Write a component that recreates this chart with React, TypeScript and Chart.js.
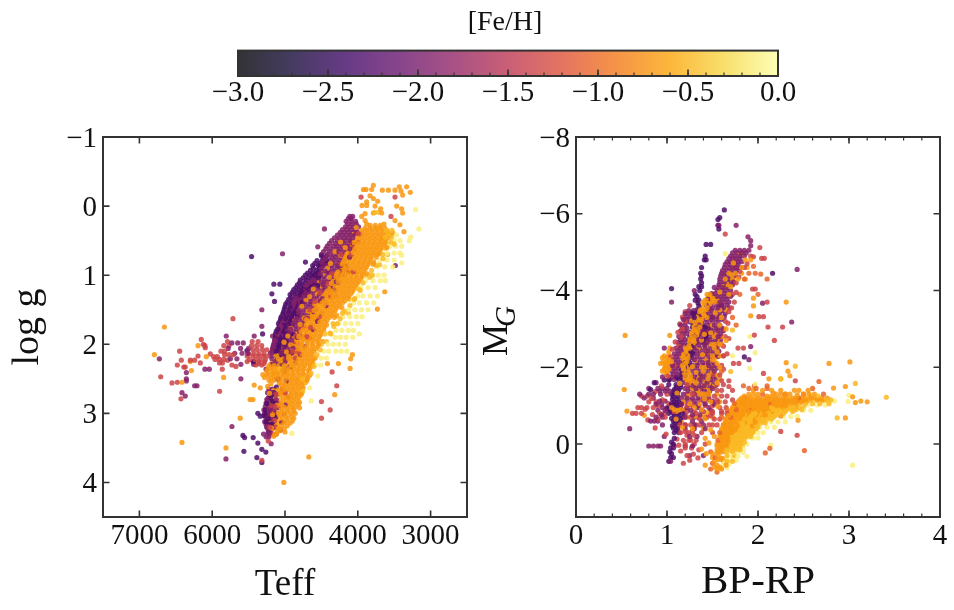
import React, { useEffect, useRef } from "react";
import { Chart, registerables } from "chart.js";

Chart.register(...registerables);

const FONT = '"Liberation Serif", serif';
const INK = "#333333";

const infernoStops = ["#000004", "#160b39", "#420a68", "#6a176e", "#932667", "#bc3754", "#dd513a", "#f37819", "#fca50a", "#f6d746", "#fcffa4"];
const fehMin = -3;
const fehMax = 0;
const colorbarMajor = [-3, -2.5, -2, -1.5, -1, -0.5, 0];
const teffTicks = [7000, 6000, 5000, 4000, 3000];

const fehDeep = -2.3;
const fehMagenta = -1.9;
const fehRed = -1.35;
const fehHot = -1.05;
const fehOrange = -0.7;
const fehGold = -0.48;
const fehPale = -0.12;

// Left panel rows: [log g, Teff, Teff, ...]
const leftPale = [[0.05,3206],[0.33,3160],[0.42,3540,3470],[0.45,3274],[0.5,3500,3420,3293],[0.58,3560,3480,3397],[0.68,3600,3500,3420],[0.71,3397],[0.78,3700,3600,3500],[0.82,3397],[0.88,3740,3630,3520],[1,3820,3720,3640],[1.08,3890,3790,3690,3620],[1.18,3960,3860,3760],[1.3,4000,3930,3830,3730],[1.4,4060,3980,3880,3780],[1.5,4130,4040,3950,3860],[1.6,4200,4110,4020,3940],[1.7,4260,4170,4090,4000],[1.8,4300,4220,4130,4060],[1.85,3980],[1.9,4310,4240,4160,4070],[2,4410,4340,4260,4170],[2.1,4470,4400,4300,4230,4150],[2.2,4500,4430],[2.3,4580,4510],[2.46,4550],[2.63,4660],[2.82,4641],[3.29,4906]];
const leftMagenta = [[0.15,4110,4070],[0.22,4160,4090,4030],[0.3,4170,4110,4050,3990],[0.33,4458],[0.38,4240,4180,4120,4060,4000],[0.46,4320,4250,4190,4130,4070],[0.54,4390,4310,4250,4190,4120,4060],[0.59,4550],[0.62,4440,4370,4300,4240,4170,4110],[0.69,5034],[0.7,4500,4410,4340,4280,4210,4150],[0.78,4470,4380,4320,4250,4190],[0.86,4520,4430,4360,4290,4230,4170,3484],[0.94,4530,4450,4390,4320,4260,4200],[1.02,4620,4540,4470,4400,4330,4270],[1.1,4650,4570,4500,4430,4360,4300],[1.18,4740,4660,4590,4520,4450,4380],[1.26,4790,4710,4640,4570,4500,4430],[1.34,4850,4770,4700,4630,4560,4490],[1.42,4880,4800,4730,4660,4590],[1.5,4930,4850,4780,4710,4640,4570,5318],[1.58,4980,4900,4830,4760,4690,4620],[1.66,5010,4930,4860,4790,4720],[1.74,5060,4980,4910,4840,4770,5318],[1.82,5090,5010,4940,4870,4800],[1.88,5171,5423,5807],[1.9,5120,5040,4970,4900,4830],[1.98,5150,5070,5000,4930,4860,5573,5650,5730],[2.06,5170,5100,5030,4960,4890,5500,5610,5780],[2.13,5200,5130,5050,4980,4910,5690,5590,5510],[2.21,6726,5180,5100,5030,4960,5750,5660],[2.29,5180,5110,5040,5606,5432],[2.36,6100,6040,5260],[2.41,6355],[2.5,6355,5606],[2.53,6355],[2.6,6209,6241],[2.7,5240,5180,6415],[2.75,6370,5200],[2.85,5260,5190,5120],[2.95,5290,5220,5150],[3.05,5270,5200,5130],[3.12,5280,5210],[3.19,5729,5240,5160],[3.3,5295,5210],[3.44,5190],[3.66,5811]];
const leftMagentaFill = [[0.18,4130,4090],[0.26,4140,4080,4020],[0.34,4210,4150,4090,4030],[0.42,4280,4220,4160,4100,4040],[0.5,4360,4280,4220,4160,4100],[0.58,4420,4340,4280,4210,4150,4090],[0.66,4470,4390,4320,4260,4190,4130],[0.74,4440,4360,4300,4230,4170],[0.82,4490,4410,4340,4270,4210],[0.9,4500,4420,4350,4280,4210],[0.98,4580,4510,4430,4360,4300,4240],[1.06,4610,4530,4460,4390,4320],[1.14,4700,4620,4550,4480,4410,4340],[1.22,4760,4680,4610,4540,4470,4400],[1.3,4820,4740,4670,4600,4530,4460],[1.38,4870,4790,4720,4650,4580,4510],[1.46,4900,4820,4750,4680,4610],[1.54,4960,4880,4810,4740,4670,4600],[1.62,4990,4910,4840,4770,4700],[1.7,5040,4960,4890,4820,4750],[1.78,5070,4990,4920,4850,4780],[1.86,5100,5020,4950,4880,4810],[1.94,5140,5060,4980,4910,4840],[2.02,5160,5080,5010,4940,4870],[2.1,5180,5110,5040,4970,4900],[2.17,5190,5120,5050,4980],[2.25,5140,5070,5000],[2.65,5220,5170],[2.8,5250,5190,5120],[2.9,5270,5200,5140],[3,5280,5210,5150],[3.08,5250,5190],[3.16,5260,5210],[3.24,5230,5190],[3.34,5260,5220]];
const leftMixMagenta = [[0.41,3957],[0.52,3998],[0.63,4046],[0.74,4114],[0.88,4163],[0.99,4212],[1.1,4265],[1.21,4319],[1.32,4384],[1.44,4437],[1.55,4496],[1.67,4553],[1.79,4608],[1.91,4664],[2.03,4731],[2.15,4792],[2.27,4857],[2.33,4935],[2.41,5012],[2.53,4984],[2.64,5037],[2.76,4963],[2.88,4998],[3.01,5013],[3.13,5044],[3.24,5062],[1.05,4377],[1.38,4518],[1.72,4644],[2.08,4823]];
const leftDeep = [[0.72,4500,4430],[0.73,5459],[0.79,4560,4490,4430],[0.81,4719],[0.86,4620,4540,4470],[0.93,4650,4570,4500],[1,4720,4650,4590,4520],[1.07,4790,4710,4640,4570],[1.13,5153,5071],[1.14,4830,4760,4690,4620],[1.21,4880,4810,4740,4670],[1.27,5180],[1.28,4930,4860,4790,4720],[1.35,4950,4880,4820],[1.38,5144],[1.42,4990,4920,4850,4780],[1.49,5010,4940,4870],[1.56,5030,4960,4890,4830],[1.63,5060,4990,4920],[1.7,5090,5010,4940],[1.78,5100,5030,4960],[1.85,5130,5050,4990,5308],[1.93,5140,5070,5000],[2,5150,5080],[2.07,5170,5090,5020],[2.09,5523],[2.14,5120,5040,4960],[2.25,5432],[2.7,5210,5150],[2.78,5230,5170],[2.86,5250,5190,5130],[2.95,5270,5200],[3,5373],[3.03,5290,5220,5160],[3.04,5340],[3.12,5260,5190],[3.2,5250,5170],[3.28,5230],[3.32,5578],[3.35,5555,5437],[3.43,5373],[3.52,5318],[3.55,5565],[3.56,5263],[3.64,5386],[3.71,5318]];
const leftDeepFill = [[0.75,4470],[0.83,4590,4520,4450],[0.9,4610,4530],[0.97,4690,4620,4550],[1.04,4750,4680,4610,4540],[1.11,4800,4730,4660,4590],[1.18,4850,4780,4710,4640],[1.25,4900,4830,4760,4690],[1.32,4920,4850,4780],[1.39,4970,4900,4830,4760],[1.46,5000,4930,4860],[1.53,5020,4950,4880,4810],[1.6,5050,4980,4910],[1.67,5070,5000,4930,4860],[1.74,5080,5000,4930],[1.81,5120,5040,4970],[1.89,5130,5060,4990,4920],[1.96,5110,5040,4970],[2.03,5160,5090,5010],[2.1,5130,5060,4990],[2.18,5090,5020],[2.74,5200,5140],[2.82,5240,5180],[2.9,5220,5160],[2.99,5250,5180],[3.08,5230,5170],[3.16,5240,5200],[3.24,5210]];
const leftMixDeep = [[0.95,4412],[1.15,4553],[1.3,4697],[1.45,4771],[1.6,4831],[1.72,4896],[1.85,4917],[2,4968],[2.12,4931],[2.25,5052],[2.35,4989],[2.5,5096],[2.62,5118],[2.72,5098],[2.83,5163],[2.92,5091],[3.05,5122],[3.15,5165]];
const leftRed = [[1.63,5715],[2.02,6100],[1.93,6150],[2,6122],[2.05,6095],[2.1,6447],[2.14,6026,5500,5430,5360,5290],[2.18,5980,5930],[2.1,5880,5830],[2.02,5840,5770,5460,5390,5320],[1.96,5790,5450,5370],[2.27,6163,5900,5860],[2.23,6424,6300,6241,5789],[2.17,6195,5520,5440,5370,5300,5240],[2.25,5520,5440,5360,5280],[2.3,6479,5729,5400,5320],[2.33,6390,6370],[2.36,5862],[2.32,5674],[2.47,6707],[2.56,6552],[2.55,6479],[2.68,5898],[2.79,6429],[2.4,4353],[2.6,4289],[2.95,4380],[3.07,4499],[2.83,4499],[3.68,5318],[-0.13,3489,3955],[0.15,3544],[0.6,4200,4130,4060],[0.95,4130,4060],[1.3,4370,4300],[1.6,4530,4600],[1.9,4800,4730],[2.1,4970,4900],[2.5,5100],[2.7,5060,5000],[2.9,5210,5140,5080],[3.1,5200,5140],[3.3,5180,5120],[3.4,5230]];
const leftRedFill = [[0.4,4050,3990],[0.52,4110,4040],[0.7,4230,4160,4090],[0.85,4280,4210],[0.98,4360,4290],[1.12,4470,4400,4330],[1.25,4520,4450,4380],[1.38,4590,4520,4450],[1.5,4660,4590],[1.63,4720,4650,4580],[1.76,4790,4720,4650],[1.89,4850,4780,4700],[2,4880,4810],[2.12,4950,4880,4810],[2.2,5000,4930,4860],[2.08,5440,5380,5310,5250],[2.22,5490,5410,5340,5270],[2.28,5360,5290],[2.15,5830,5770,5710],[2.22,5960,5900,5840],[2.72,5210,5120],[2.85,5150,5090],[3,5180,5110],[3.2,5210,5130]];
const leftOrange = [[0.28,3830,3760,3690],[0.35,3950,3880,3810,3740,3670,3600],[0.42,3980,3910,3840,3770,3700,3630,3560],[0.49,4040,3970,3900,3830,3760,3690,3620],[0.56,4070,4000,3930,3860,3790,3720,3650],[0.63,4110,4040,3970,3900,3830,3760,3690],[0.7,4150,4080,4010,3940,3870,3800,3730],[0.77,4180,4110,4040,3970,3900,3830],[0.84,4210,4140,4070,4000,3930,3860,3790],[0.91,4250,4180,4110,4040,3970,3900],[0.98,4290,4220,4150,4080,4010,3940,3870],[1.05,4310,4240,4170,4100,4030,3960],[1.12,4360,4290,4220,4150,4080,4010],[1.19,4400,4330,4260,4190,4120,4050],[1.24,3630],[1.26,4440,4370,4300,4230,4160,4090],[1.33,4500,4420,4350,4280,4210,4140],[1.4,4560,4490,4420,4350,4280,4210],[1.47,4570,4500,4430,4360,4290,4220],[1.49,3731],[1.54,4620,4550,4480,4410,4340],[1.61,4680,4600,4530,4460,4390,4320],[1.68,4730,4660,4590,4520,4450],[1.75,4740,4670,4600,4530,4460,6657],[1.82,4780,4710,4640,4570,4500],[1.89,4810,4740,4670,4600,4530],[1.96,4840,4770,4700,4630,4560,4480],[2.02,6195],[2.03,4860,4780,4700,4620,4550],[2.1,4900,4820,4750,4680,4610],[2.15,6794,4074],[2.17,4950,4860,4790,4720,4650],[2.18,6081],[2.21,4097],[2.24,5130,5060,4990,4920,4840,4770,4700,4630],[2.25,6300],[2.28,4266,4417],[2.31,5220,5150,5080,5010,4940,4870,4800,4730,4650],[2.35,4106],[2.38,5250,5180,5110,5040,4970,4900,4830,4760,4680,6285],[2.45,5230,5160,5090,5020,4950,4880,4800,4730,4660],[2.48,5843],[2.52,5220,5150,5070,4980,4910,4840,4770,4700],[2.55,6415],[2.59,5050,4980,4910,4840,4770,5423],[2.63,5340],[2.66,5090,5010,4940,4870,4790],[2.73,5070,5000,4920,4850,4780,4317],[2.8,5060,4980,4910,4840,5480,5440],[2.87,5050,4970,4900,4820],[2.92,4800],[2.94,5050,4970,4890],[3,5090,5010,4930,4860],[3.07,5120,5040,4960,4880,5615],[3.14,5090,5010,4930],[3.22,5160,5090,5010],[3.27,5000],[3.3,5130,5120],[3.42,6415],[3.5,5811],[3.63,4673],[4,5016],[-0.3,3786],[-0.28,3430,3329],[-0.24,3923,3887,3809],[-0.23,3663,3580,3489],[-0.2,3279],[-0.22,3407],[-0.16,3384],[-0.15,3832],[-0.11,3786],[-0.07,3727],[-0.06,3878],[-0.01,3942,3878],[0,3763,3466],[0.04,3398,3686],[0.1,3384,3672,3786],[0.11,3900],[0.15,3946],[0.21,3900,3489],[0.26,3878,3640],[0.27,3421],[0.37,3366]];
const leftOrangeFill = [[0.32,3900,3830,3760,3700,3630],[0.39,3940,3870,3800,3730,3660,3590,3520],[0.46,4010,3940,3870,3800,3730,3660,3590],[0.53,4050,3980,3910,3840,3770,3700,3630],[0.6,4090,4020,3950,3880,3810,3740,3670,3600],[0.67,4130,4060,3990,3920,3850,3780,3710],[0.74,4170,4100,4030,3960,3890,3820,3750],[0.81,4200,4130,4060,3990,3920,3850,3780],[0.88,4230,4160,4090,4020,3950,3880],[0.95,4270,4200,4130,4060,3990,3920],[1.02,4300,4230,4160,4090,4020,3950],[1.09,4340,4270,4200,4130,4060,3990],[1.16,4380,4310,4240,4170,4100,4030],[1.23,4420,4350,4280,4210,4140,4070],[1.3,4470,4400,4330,4260,4190,4120],[1.37,4530,4460,4390,4320,4250,4180],[1.44,4540,4470,4400,4330,4260],[1.51,4600,4520,4450,4380,4310],[1.58,4650,4570,4500,4430,4360,4290],[1.65,4700,4630,4560,4490,4420],[1.72,4710,4640,4570,4500,4430],[1.79,4750,4680,4610,4540,4470],[1.86,4790,4720,4650,4580,4510],[1.93,4820,4750,4680,4610,4540],[2,4850,4770,4690,4620,4540],[2.07,4880,4800,4730,4650,4580],[2.14,4930,4840,4770,4700,4630],[2.21,5090,5020,4950,4880,4810,4740,4670,4600],[2.28,5190,5120,5050,4980,4910,4830,4760,4690,4620],[2.35,5230,5160,5090,5020,4950,4880,4810,4740,4660],[2.42,5240,5170,5100,5030,4960,4890,4820,4750,4670],[2.49,5190,5120,5050,4980,4910,4840,4770,4690],[2.56,5080,5010,4940,4870,4800,4730],[2.63,5030,4960,4890,4820,4750],[2.7,5060,4990,4910,4840,4770],[2.77,5020,4950,4880,4810],[2.84,5020,4940,4870,4800],[2.91,5010,4930,4860],[2.97,5040,4960,4880],[3.04,5070,4990,4910],[3.11,5060,4980,4900],[3.18,5120,5050,4970],[3.26,5100]];
const leftMixOrange = [[0.52,4237],[0.66,4312],[0.83,4376],[0.9,4418],[0.97,4473],[1.03,4392],[1.08,4527],[1.17,4486],[1.2,4613],[1.27,4558],[1.31,4661],[1.36,4712],[1.41,4607],[1.45,4769],[1.52,4683],[1.55,4821],[1.62,4738],[1.66,4874],[1.71,4793],[1.77,4917],[1.83,4831],[1.88,4962],[1.91,4878],[1.97,5014],[2.01,4923],[2.06,5061],[2.11,4981],[2.16,5117],[2.22,5033],[2.44,5304],[2.48,5281],[2.57,5193],[2.61,5238],[2.67,5156],[2.71,5213],[2.79,5132],[2.83,5187],[2.88,5109],[2.96,5143],[3.02,5171],[3.09,5213],[3.13,5138],[3.21,5186],[3.25,5067],[3.33,5154],[0.31,4023],[0.41,4087],[0.6,4172],[0.73,4249],[1.12,4421],[1.6,4621],[1.4,4547],[1.8,4712]];
const leftGold = [[0.09,3770,3720],[0.35,3610,3530],[0.45,3620,3540],[0.55,3580,3500],[0.7,3660,3590],[0.85,3700],[1,3900,3800],[1.2,3990],[1.35,4120,4050],[1.55,4210,4130],[1.7,4340,4280],[1.85,4450,4370],[2,4500],[2.15,4560],[2.3,4620],[2.5,4760]];
const leftMixGold = [[0.39,3581],[0.47,3663],[0.52,3547],[0.61,3623],[0.69,3702],[0.76,3654],[0.86,3743],[0.93,3812],[1.03,3837],[1.11,3928],[1.22,3967],[1.34,4043],[1.44,4108],[1.52,4186],[1.63,4243],[1.74,4329],[1.84,4382],[1.96,4431],[2.08,4517],[2.19,4577],[2.32,4604],[2.42,4641],[2.55,4712],[2.68,4757],[2.3,4908],[2.42,5143],[2.36,5071]];

// Right panel rows: [M_G, BP-RP, BP-RP, ...]
const rightPale = [[-4.96,1.64],[-3.65,1.37],[-2.8,1.91],[-2.38,1.97],[-2.3,1.72],[-1.97,1.91],[-1.56,1.97],[-1.27,3.0],[-1.11,2.99],[0.55,3.04],[0.03,2.14],[-1.12,2.62,2.7,2.78,2.84],[-1.02,2.55,2.65,2.74],[-0.88,2.4,2.5,2.58],[-0.72,2.28,2.36,2.43],[-0.58,2.14,2.22,2.3],[-0.44,2.02,2.1,2.18],[-0.3,1.95,2.0,2.06],[-0.16,1.88,1.94,2.0],[0,1.82,1.88],[0.12,1.78,1.84],[0.22,1.72,1.78,1.84],[0.32,1.66,1.72,1.78,1.88],[0.42,1.64,1.7,1.76],[0.52,1.62,1.68],[0.62,1.6,1.66]];
const rightMagenta = [[-5.7,1.76,1.57],[-5.4,1.89],[-5.3,1.92],[-5.17,1.92],[-5.05,1.75,1.8,1.85,1.9],[-4.9,1.7,1.75,1.8,1.85],[-4.75,1.66,1.7,1.74,1.78,1.82],[-4.6,1.63,1.68,1.72,1.76,1.8],[-4.55,2.43],[-4.45,1.6,1.65,1.7,1.75],[-4.3,1.58,1.63,1.68,1.72],[-4.15,1.57,1.62,1.67,1.72],[-4,1.55,1.6,1.65,1.7,1.3],[-3.85,1.5,1.55,1.6,1.65,1.7],[-3.7,1.47,1.52,1.58,1.63,1.68,1.05],[-3.67,2.05],[-3.55,1.45,1.5,1.56,1.62,1.68],[-3.4,1.2,1.25,1.3,1.42,1.47,1.52,1.58,1.64],[-3.25,1.18,1.23,1.36,1.42,1.48,1.54,1.6],[-3.18,2.37],[-3.1,1.15,1.2,1.35,1.4,1.46,1.52,1.58],[-2.95,1.15,1.2,1.34,1.38,1.44,1.5,1.56,1.62],[-2.8,1.13,1.18,1.33,1.38,1.44,1.5,1.56],[-2.65,1.12,1.17,1.33,1.38,1.44,1.5,1.56],[-2.54,1.92],[-2.5,1.1,1.15,1.3,1.36,1.42,1.48,1.54,0.97],[-2.35,1.08,1.13,1.3,1.36,1.42,1.48,1.54],[-2.2,1.07,1.12,1.3,1.36,1.42,1.48,1.9],[-2.05,1.06,1.11,1.28,1.34,1.4,1.46,1.52],[-1.9,1.05,1.1,1.28,1.34,1.4,1.46,1.52],[-1.75,1.05,1.1,1.27,1.33,1.39,1.45,1.51,0.95],[-1.6,1.2,1.26,1.32,1.38,1.44,1.5,0.88],[-1.45,0.9,0.95,1,1.2,1.26,1.32,1.38,1.44,1.5,0.8],[-1.3,0.7,0.85,0.93,1.18,1.3,1.36,1.44,0.8],[-1.12,0.92,0.98,1.2,1.3,1.4,1.5],[-0.95,0.95,1.0,1.22,1.34,1.46],[-0.7,0.88,0.95,1.2,1.3,1.42],[-0.6,0.82,0.86,0.9,1.28,1.38],[-0.4,0.59,1.2,1.3,1.42],[-0.2,0.97,1.25,1.33],[0.05,0.8,0.85,0.9,0.93,1.08,1.2,1.28],[0.3,1.25,1.4],[0.45,1.04]];
const rightMagentaFill = [[-4.98,1.72,1.77,1.82,1.87],[-4.83,1.68,1.72,1.76,1.8],[-4.68,1.64,1.69,1.74,1.78],[-4.52,1.61,1.66,1.71,1.76],[-4.38,1.59,1.64,1.69,1.74],[-4.22,1.58,1.63,1.68,1.73],[-4.08,1.52,1.57,1.62,1.67],[-3.92,1.49,1.53,1.58,1.63,1.68],[-3.78,1.45,1.5,1.56,1.61,1.66],[-3.62,1.43,1.48,1.54,1.6,1.66],[-3.48,1.24,1.29,1.44,1.49,1.55,1.61],[-3.32,1.22,1.27,1.39,1.45,1.51,1.57,1.63],[-3.18,1.2,1.25,1.38,1.44,1.5,1.56],[-3.02,1.17,1.22,1.37,1.42,1.48,1.54,1.6],[-2.88,1.17,1.22,1.36,1.41,1.47,1.53,1.59],[-2.72,1.15,1.2,1.35,1.41,1.47,1.53,1.59],[-2.58,1.14,1.19,1.35,1.41,1.47,1.53],[-2.42,1.12,1.17,1.33,1.39,1.45,1.51,1.57],[-2.28,1.1,1.15,1.33,1.39,1.45,1.51,1.56],[-2.12,1.09,1.14,1.33,1.39,1.45,1.51],[-1.98,1.08,1.13,1.31,1.37,1.43,1.49,1.55],[-1.82,1.07,1.12,1.31,1.37,1.43,1.49],[-1.68,1.03,1.08,1.3,1.36,1.42,1.48,1.54],[-1.52,1.23,1.29,1.35,1.41,1.47,1.53],[-1.38,1.23,1.29,1.35,1.41,1.47,1.03,0.98,0.92],[-1.2,0.75,0.85,1.16,1.22,1.28,1.34,1.4,1.46],[-1.04,0.88,0.94,1.16,1.24,1.32,1.42,1.52],[-0.88,0.9,0.98,1.18,1.26,1.38,1.48],[-0.76,0.94,1.2,1.28,1.36],[-0.5,0.95,1.2,1.3,1.4]];
const rightDeep = [[-6.1,1.63],[-5.9,1.58],[-5.85,1.56],[-5.7,1.56],[-5.6,1.57],[-5.2,1.43,1.48],[-4.9,1.42],[-4.8,1.41,1.43],[-4.6,1.38],[-4.45,1.37,2.16],[-4.3,1.37],[-4.1,1.35,1.38],[-4.05,1.05],[-3.9,1.31],[-3.75,1.31,1.35],[-3.6,1.35,1.58,1.6],[-3.42,1.28,1.33],[-3.3,1.3,1.45,1.5],[-3.17,1.28,1.34],[-3.05,1.28,1.33,1.4,1.42],[-2.92,1.26,1.31,1.4],[-2.8,1.25,1.3,1.42],[-2.67,1.23,1.28,1.4],[-2.55,1.22,1.27],[-2.42,1.2,1.26],[-2.3,1.2,1.25],[-2.27,1.85],[-2.17,1.18,1.23],[-2.05,1.17,1.22],[-1.92,1.16,1.21],[-1.8,1.15,1.2],[-1.67,0.97,1.02,1.13,1.18],[-1.6,0.86],[-1.55,1.02,1.1,1.15],[-1.42,1.08,1.13,0.82],[-1.3,1.05,1.1],[-1.17,1.06,1.11],[-1.05,1.05,1.1,1.15],[-0.92,1,1.05,1.1,1.15],[-0.8,1.02,1.07,1.12,1.17],[-0.67,1.05,1.1,1.15],[-0.55,1.09,1.14],[-0.42,1.07,1.12],[-0.3,1.08,1.13],[-0.05,1.05],[0.1,1.07,1.04],[0.25,1.05],[0.35,1.04,1.07],[0.45,1.02]];
const rightDeepFill = [[0.2,1.03],[0,1.07],[-0.15,1.08],[-0.36,1.1],[-0.48,1.11,1.06],[-0.6,1.12,1.07],[-0.73,1.08,1.13],[-0.86,1.04,1.09,1.14],[-1,1.03,1.08,1.13],[-1.1,1.08,1.13],[-1.24,1.07,1.12],[-1.36,1.07,1.12],[-1.48,1.1,1.15],[-1.74,1.16,1.11],[-1.86,1.17,1.22],[-2,1.19,1.24],[-2.12,1.2,1.25],[-2.25,1.22,1.27],[-2.37,1.23,1.28],[-2.5,1.24,1.29],[-2.62,1.26,1.31,1.42],[-2.74,1.27,1.32,1.44],[-2.86,1.29,1.34,1.43],[-3,1.31,1.36,1.45],[-3.12,1.32,1.37],[-3.24,1.33],[-3.36,1.31,1.36],[-3.5,1.33],[-3.68,1.34],[-3.84,1.33],[-4,1.36],[-4.2,1.38],[-4.38,1.38]];
const rightRed = [[-5.47,1.64],[-5.12,2.02],[-4.88,1.95],[-4.84,2.07,2.04],[-4.04,1.97,1.94],[-3.7,2.1],[-3.32,2.01,2.06],[-3.05,2.27,2.11],[-2.84,1.96],[-2.7,2.18],[-2.5,1.78,1.84],[-2.1,1.73,1.79],[-1.84,2.06],[-1.65,1.6,1.68,2.41],[-1.4,1.72,1.6,1.55],[-1.25,0.72,0.78,1.52,1.6,1.66],[-1.1,0.8,0.88,1.56,1.64],[-0.95,0.68,0.72,0.78,0.85,1.58,1.65],[-0.8,0.62,0.66,0.72,0.92,0.97,1.32,1.5,1.6,1.66],[-0.65,0.9,1.36,1.52,1.58],[-0.5,1.2,1.26,1.36,1.46,1.55],[-0.33,1.2,1.28,2.25],[-0.23,2.43,1.22,1.3],[-0.1,1.24,1.32],[0,1.2,1.3,1.42],[0.1,1.27],[0.15,1.35],[0.3,1.22],[0.42,1.25],[0.5,1.18]];
const rightRedFill = [[-4.7,1.88],[-4.5,1.8],[-4.2,1.76],[-3.9,1.72],[-3.7,1.74],[-3.45,1.68,1.2],[-3.2,1.64,1.2],[-3,1.62,1.17],[-2.8,1.58,1.64,1.16],[-2.55,1.56,1.62,1.13],[-2.3,1.56,1.62],[-2.05,1.54,1.6,1.08],[-1.8,1.52,1.58],[-1.55,1.55,1.62,1.22],[-1.3,1,1.22,1.28,1.34,1.4],[-1.15,0.95,1.25,1.35,1.45,1.55],[-1,0.9,1.15,1.22,1.28,1.35,1.42,1.5],[-0.85,1.08,1.22,1.3,1.4,1.5,1.6],[-0.7,0.98,1.18,1.26,1.34,1.44],[-0.5,1.14,1.32,1.5],[-0.3,1.15,1.24,1.38,1.5],[-0.1,1.18,1.26],[0.1,1.2]];
const rightMixRed = [[-3.61,1.25],[-3.31,1.17],[-3.13,1.14],[-2.91,1.12],[-2.66,1.09],[-2.47,1.06],[-2.27,1.04],[-2.01,1.03],[-1.77,1.01],[-1.52,0.94],[-1.37,0.87],[-1.19,0.83],[-1.06,1.02],[-0.91,0.76],[-0.77,0.84],[-0.63,0.79],[-0.42,0.87],[-0.26,0.99],[-0.13,1.11],[0.03,1.13],[0.18,1.15],[0.26,1.29],[0.36,1.34],[-4.9,1.92],[-4.6,1.85],[-4.35,1.79],[-3.95,1.76],[-3.55,1.71],[-3.15,1.67],[-2.75,1.68],[-2.35,1.66],[-1.95,1.62],[-1.5,1.68],[-1.15,1.72],[-0.75,1.48]];
const rightHot = [[-4.3,1.85,2.1],[-4.43,2.03],[-4.45,1.97,1.9],[-4.63,1.95],[-3.9,1.8,2.0],[-3.3,1.72],[-3.1,1.76],[-2.6,1.6],[-2.3,1.62],[-1.9,1.6],[-1.63,2.67],[-1.52,1.84,1.96,2.1],[-1.45,1.9,1.98,2.1,2.6],[-1.3,2.05,2.3,2.5,2.72],[-1.2,1.85,2.45],[-1.05,1.74,1.84,2.14],[-0.9,1.66,1.76,1.9],[-0.7,1.6,1.7],[-0.5,1.62],[-0.3,1.58],[-0.1,1.56],[0.17,2.51],[0.23,2.08],[0.11,2.13],[0.2,1.48],[0.35,1.53],[0.5,1.5],[0.65,1.48],[0.73,1.55]];
const rightOrange = [[-4.95,1.81],[-4.8,1.86,1.92],[-4.6,1.74,1.82,1.88],[-4.45,1.68,1.75,1.82],[-4.3,1.64,1.72,1.78,1.86],[-4.1,1.62,1.7],[-3.9,1.48,1.5,1.68],[-3.8,1.45,1.5,1.54,1.95],[-3.7,1.4,1.46,1.52,2.31],[-3.6,1.95],[-3.5,1.37,1.42,1.48,1.58,1.65],[-3.34,1.92],[-3.3,1.33,1.38,1.44,1.56],[-3.1,1.3,1.35,1.5,1.58],[-2.9,1.27,1.32,1.48,1.55],[-2.83,1.03,0.54],[-2.7,1.24,1.29,1.45,1.55,1.65],[-2.5,1.2,1.25,1.03,1.42,1.52],[-2.3,1.16,1.21,0.97,1.02,1.5,1.58],[-2.1,1.16,1.2,0.93,0.98,1.03,1.45,1.55],[-1.9,1.18,1.22,0.95,1,1.4,1.5],[-1.7,1.2,1.24,1.35,1.45,1.58,2.25,2.12],[-1.5,1.3,1.38,1.42,1.5,2.96],[-1.42,0.53],[-1.3,1.25,1.4,1.46,1.55,1.9,1.95,2,2.2,2.25,2.3,2.35,2.5,2.56,2.62],[-1.46,2.83],[-1.25,1.85,2.1,2.15],[-1.15,1.8,1.85,1.9,1.95,2,2.05,2.1,2.15,2.2,2.25,2.3,2.35,2.4,2.45,2.5,2.55,2.6,2.65,2.72],[-1.05,1.76,1.82,1.87,1.92,1.97,2.02,2.07,2.12,2.17,2.22,2.27,2.32,2.37,2.42,1.25,1.36],[-0.95,1.72,1.78,1.83,1.88,1.93,1.98,2.03,2.08,2.13,2.18,2.23,2.28,2.33,1.05,1.3],[-0.85,1.7,1.75,1.8,1.85,1.9,1.95,2,2.05,2.1,2.15,1.1],[-0.75,1.68,1.73,1.78,1.83,1.88,1.93,1.98,2.03,2.08,0.75,1.4],[-0.86,0.56],[-0.68,2.96],[-0.65,1.65,1.7,1.75,1.8,1.85,1.9,1.95,2.0,1.1],[-0.62,2.44],[-0.55,1.65,1.7,1.75,1.8,1.85,1.9],[-0.45,1.63,1.68,1.73,1.78,1.83],[-0.35,1.6,1.65,1.7,1.75,1.8],[-0.25,1.6,1.66,1.72],[-0.15,1.6,1.65,1.7,1.42],[-0.05,1.58,1.63,1.68],[0.05,1.55,1.6,1.65],[0.15,1.55,1.6],[0.25,1.5,1.55,1.43],[0.35,1.5,1.58],[0.45,1.52,1.62],[0.55,1.42,1.55,1.65],[0.65,1.55,1.6],[-1.08,3.07],[-1.12,3.13],[-1.1,3.2],[-2.14,3.01],[-2.1,2.78],[-2.12,2.31],[-1.9,2.33],[-1.78,2.35],[-1.23,3.04]];
const rightClumpFill = [[-1.4,1.95,2.05,2.15,2.25,2.4,2.45,2.55],[-1.2,1.82,1.88,1.92,1.98,2.02,2.08,2.12,2.18,2.22,2.28,2.32,2.38,2.42,2.48,2.52,2.58,2.62,2.7,2.76],[-1.1,1.78,1.83,1.88,1.93,1.98,2.03,2.08,2.13,2.18,2.23,2.28,2.33,2.38,2.43,2.48,2.53],[-1,1.74,1.79,1.85,1.9,1.95,2,2.05,2.1,2.15,2.2,2.25,2.3],[-0.9,1.72,1.77,1.82,1.87,1.92,1.97,2.02,2.07,2.12],[-0.8,1.68,1.73,1.78,1.83,1.88,1.93,1.98,2.03],[-0.7,1.66,1.71,1.76,1.81,1.86,1.91,1.96],[-0.6,1.64,1.69,1.74,1.79,1.84],[-0.5,1.62,1.67,1.72,1.77],[-0.4,1.6,1.65,1.7,1.75],[-0.3,1.6,1.65,1.7],[-0.2,1.58,1.63,1.68],[-0.1,1.6,1.65],[0,1.55,1.6,1.66],[0.1,1.58,1.63],[0.2,1.56,1.62],[0.4,1.56,1.6],[0.6,1.52,1.58]];
const rightMixClump = [[-1.33,2.17],[-1.28,2.43],[-1.18,2.67],[-1.07,2.29],[-0.97,2.41],[-0.92,1.96],[-0.83,2.09],[-0.73,2.25],[-0.68,1.72],[-0.57,1.97],[-0.47,1.94],[-0.42,1.69],[-0.31,1.71],[-0.22,1.61],[-0.08,1.67],[0.07,1.63],[0.22,1.58],[0.37,1.61]];
const rightGold = [[-2.97,1.72],[-2.03,2.41],[-1.89,1.7],[-1.7,2.25],[-1.58,3.07],[-1.25,2.5,2.58,2.66],[-1.22,3.41],[-1.15,2.5,2.58,2.7,2.75,2.8],[-1.05,2.46,2.52,2.6,2.68,2.78],[-0.95,2.1,2.15,2.2,2.25,2.3,2.35,2.4,2.45,2.5],[-0.85,2,2.05,2.1,2.15,2.2,2.25,2.3,2.38],[-0.75,1.85,1.9,1.95,2,2.05,2.1,2.15,2.2],[-0.68,2.87],[-0.65,1.8,1.85,1.9,1.95,2,2.05,2.1,2.15],[-0.55,1.78,1.83,1.88,1.93,1.98,2.03,2.08],[-0.45,1.75,1.8,1.85,1.9,1.95,2.0],[-0.35,1.75,1.8,1.85,1.9,1.95],[-0.25,1.72,1.77,1.82,1.87,1.92],[-0.15,1.7,1.75,1.8,1.85],[-0.05,1.7,1.75,1.8,1.85],[0.05,1.68,1.73,1.78,1.83],[0.15,1.65,1.7,1.75,1.8]];
const rightGoldFill = [[-0.9,2.12,2.17,2.22,2.27,2.32,2.37,2.42,2.48],[-0.8,1.92,1.97,2.02,2.07,2.12,2.17,2.22,2.28],[-0.7,1.86,1.92,1.97,2.02,2.07,2.12,2.17],[-0.6,1.82,1.87,1.92,1.97,2.02,2.07],[-0.5,1.78,1.83,1.88,1.93,1.98],[-0.4,1.77,1.82,1.87,1.92,1.98],[-0.3,1.74,1.79,1.84,1.89,1.94],[-0.2,1.72,1.77,1.82,1.87,1.92],[-0.1,1.72,1.77,1.82],[0,1.7,1.75,1.8],[0.1,1.68,1.74,1.8],[0.2,1.66,1.72],[0.3,1.66,1.74],[0.45,1.66,1.72]];
const rightTopOrange = [[-3.9,1.44,1.47],[-3.85,1.46],[-3.75,1.42,1.43,1.49],[-3.65,1.41,1.47],[-3.55,1.38,1.44],[-3.45,1.36,1.42],[-3.4,1.4],[-3.35,1.35,1.41],[-3.3,1.6],[-3.25,1.33,1.38],[-3.2,1.36],[-3.15,1.31,1.37],[-3.05,1.3,1.36],[-3,1.32,1.55,1.65],[-2.95,1.29,1.34],[-2.85,1.27,1.33],[-2.8,1.3,1.52,1.6],[-2.75,1.26,1.31],[-2.65,1.25,1.3],[-2.6,1.27,1.52,1.48,1.58],[-2.55,1.24,1.28],[-2.45,1.21,1.26],[-2.4,1.22,1.02,1.45,1.55],[-2.35,1.19,1.24],[-2.25,1.18,1.23,1,0.95],[-2.2,1.2,1.02,1.5,1.42,1.52],[-2.15,1.18,1.22,1,0.96,1.05],[-2.05,1.17,1.21,0.98,1.03],[-2,1.18,0.98,1.42,1.38,1.48,1.58],[-1.95,1.18,1.23,0.97,1.02],[-1.85,1.19,1.24,0.99],[-1.8,1.2,1,1.36,1.46,1.56],[-1.75,1.2,1.26],[-1.65,1.22,1.28],[-1.6,1.24,1.42,1.32,1.46,1.55],[-1.4,1.34,1.46],[-1.3,1.36,1.44],[-1.1,1.18,1.48,1.58],[-0.9,1.08,1.15,1.2,1.38],[-0.7,1.22,1.5],[-0.4,1.28,1.4]];
const rightMixOrange = [[-4.72,1.73],[-4.41,1.71],[-4.16,1.66],[-3.96,1.58],[-3.71,1.57],[-3.42,1.53],[-3.21,1.27],[-3.02,1.44],[-2.86,1.41],[-2.71,1.38],[-2.48,1.34],[-2.33,1.39],[-2.18,1.31],[-2.02,1.28],[-1.87,1.32],[-1.73,1.38],[-1.58,1.14],[-1.44,1.28],[-1.33,1.11],[-1.18,1.41],[-1.03,1.27],[-0.88,1.12],[-0.73,1.31],[-0.58,1.16],[-0.43,1.17],[-0.82,1.44],[-0.66,1.42],[-0.98,1.56],[-1.22,1.22],[-0.37,1.48],[-0.2,1.52],[-0.03,1.46],[0.13,1.38]];

const leftGroups: [number[][], number][] = [
  [leftPale, fehPale], [leftMagenta, fehMagenta], [leftMagentaFill, fehMagenta], [leftMixMagenta, fehMagenta],
  [leftDeep, fehDeep], [leftDeepFill, fehDeep], [leftMixDeep, fehDeep], [leftRed, fehRed], [leftRedFill, fehRed],
  [leftOrangeFill, fehOrange], [leftOrange, fehOrange], [leftMixOrange, fehOrange], [leftGold, fehGold], [leftMixGold, fehGold],
];
const rightGroups: [number[][], number][] = [
  [rightMagenta, fehMagenta], [rightMagentaFill, fehMagenta], [rightRedFill, fehRed], [rightMixRed, fehRed],
  [rightDeep, fehDeep], [rightDeepFill, fehDeep], [rightRed, fehRed], [rightHot, fehHot],
  [rightClumpFill, fehOrange], [rightOrange, fehOrange], [rightMixClump, fehOrange], [rightGold, fehGold], [rightGoldFill, fehGold],
  [rightPale, fehPale], [rightTopOrange, fehOrange], [rightMixOrange, fehOrange],
];

function hexRgb(h: string) {
  return [1, 3, 5].map((i) => parseInt(h.slice(i, i + 2), 16));
}
function fehColor(feh: number, alpha = 0.8) {
  const t = ((feh - fehMin) / (fehMax - fehMin)) * (infernoStops.length - 1);
  const i = Math.min(Math.floor(t), infernoStops.length - 2);
  const a = hexRgb(infernoStops[i]);
  const b = hexRgb(infernoStops[i + 1]);
  const f = t - i;
  const c = a.map((v, k) => Math.round(v + (b[k] - v) * f));
  return `rgba(${c[0]},${c[1]},${c[2]},${alpha})`;
}
const minus = (s: string) => s.replace("-", "\u2212");

// Draw order only: the stars are interleaved so that metallicities overlap as in a single scatter call.
function drawOrdered(groups: [number[][], number][]) {
  const pts = groups.flatMap(([rows, feh]) =>
    rows.flatMap(([v, ...xs]) => xs.map((x) => ({ x, y: v, feh }))),
  );
  const keyed = pts.map((p, i) => {
    const spread = ((i * 2654435761) >>> 0) / 4294967296;
    const lift = p.feh > -0.3 ? 0.1 : (p.feh + 3) * 0.22;
    return { p, k: spread + lift };
  });
  keyed.sort((a, b) => a.k - b.k);
  return keyed.map((e) => e.p);
}

function frame(opts: { xMinor?: number; mirror?: boolean }) {
  return {
    id: "frame",
    afterDatasetsDraw(chart: any) {
      const { ctx, chartArea: a, scales } = chart;
      const sx = scales.x;
      ctx.save();
      ctx.strokeStyle = INK;
      ctx.lineCap = "butt";
      const xtick = (px: number, len: number) => {
        ctx.beginPath();
        ctx.moveTo(px, a.bottom);
        ctx.lineTo(px, a.bottom - len);
        if (opts.mirror) {
          ctx.moveTo(px, a.top);
          ctx.lineTo(px, a.top + len);
        }
        ctx.stroke();
      };
      if (opts.xMinor) {
        ctx.lineWidth = 1.2;
        const n = Math.round((sx.max - sx.min) / opts.xMinor);
        for (let i = 0; i <= n; i++) xtick(sx.getPixelForValue(sx.min + i * opts.xMinor), 3.5);
      }
      ctx.lineWidth = 1.6;
      sx.ticks.forEach((t: any) => xtick(sx.getPixelForValue(t.value), 6.5));
      if (opts.mirror) {
        const sy = scales.y;
        sy.ticks.forEach((t: any) => {
          const p = sy.getPixelForValue(t.value);
          ctx.beginPath();
          ctx.moveTo(a.left, p);
          ctx.lineTo(a.left + 6.5, p);
          ctx.moveTo(a.right, p);
          ctx.lineTo(a.right - 6.5, p);
          ctx.stroke();
        });
      }
      ctx.lineWidth = 2;
      ctx.strokeRect(a.left, a.top, a.right - a.left, a.bottom - a.top);
      ctx.restore();
    },
  };
}

const mgTitle = {
  id: "mgTitle",
  afterDraw(chart: any) {
    const { ctx } = chart;
    ctx.save();
    ctx.translate(27, 246);
    ctx.rotate(-Math.PI / 2);
    ctx.fillStyle = "#111";
    ctx.textAlign = "left";
    ctx.textBaseline = "alphabetic";
    ctx.font = `36px ${FONT}`;
    ctx.fillText("M", 0, 0);
    const w = ctx.measureText("M").width;
    ctx.font = `italic 29px ${FONT}`;
    ctx.fillText("G", w - 3, 8);
    ctx.restore();
  },
};

function scatterConfig(groups: [number[][], number][], xOpts: any, yOpts: any, area: { left: number; top: number; right: number; bottom: number }, plugins: any[]) {
  const pts = drawOrdered(groups);
  return {
    type: "scatter",
    data: {
      datasets: [{
        data: pts.map((p) => ({ x: p.x, y: p.y })),
        pointBackgroundColor: pts.map((p) => fehColor(p.feh, 0.85)),
        pointBorderWidth: 0,
        pointRadius: 2.6,
        pointHoverRadius: 2.6,
      }],
    },
    options: {
      animation: false,
      responsive: false,
      events: [],
      layout: { padding: { left: 0, top: area.top, right: area.right, bottom: 0 } },
      plugins: { legend: { display: false }, tooltip: { enabled: false }, title: { display: false } },
      scales: {
        x: {
          ...xOpts,
          type: "linear",
          grid: { display: false, drawTicks: false },
          border: { display: false },
          afterFit: (s: any) => { s.height = area.bottom; },
        },
        y: {
          ...yOpts,
          type: "linear",
          reverse: true,
          grid: { display: false, drawTicks: false },
          border: { display: false },
          afterFit: (s: any) => { s.width = area.left; },
        },
      },
    },
    plugins,
  };
}

const tickFont = { family: FONT, size: 29 };
const tickStyle = { font: tickFont, color: "#111", autoSkip: false, maxRotation: 0, includeBounds: false };

export default function App() {
  const cbRef = useRef<HTMLCanvasElement>(null);
  const leftRef = useRef<HTMLCanvasElement>(null);
  const rightRef = useRef<HTMLCanvasElement>(null);

  useEffect(() => {
    const cb = new Chart(cbRef.current as any, {
      type: "bar",
      data: {
        labels: ["[Fe/H]"],
        datasets: [{
          data: [[fehMin, fehMax]] as any,
          barPercentage: 1,
          categoryPercentage: 1,
          borderWidth: 0,
          backgroundColor: (c: any) => {
            const { chart } = c;
            const s = chart.scales.x;
            if (!chart.chartArea || !s) return "#888";
            const g = chart.ctx.createLinearGradient(s.getPixelForValue(fehMin), 0, s.getPixelForValue(fehMax), 0);
            infernoStops.forEach((_, i) => {
              const t = i / (infernoStops.length - 1);
              g.addColorStop(t, fehColor(fehMin + t * (fehMax - fehMin)));
            });
            return g;
          },
        }],
      },
      options: {
        indexAxis: "y",
        animation: false,
        responsive: false,
        events: [],
        layout: { padding: { left: 52, right: 52, top: 0, bottom: 0 } },
        plugins: {
          legend: { display: false },
          tooltip: { enabled: false },
          title: { display: true, text: "[Fe/H]", color: "#111", font: { family: FONT, size: 28, weight: "normal" }, padding: { top: 6, bottom: 11 } },
        },
        scales: {
          x: {
            type: "linear",
            min: fehMin,
            max: fehMax,
            afterBuildTicks: (s: any) => { s.ticks = colorbarMajor.map((value) => ({ value })); },
            ticks: { ...tickStyle, padding: 0, callback: (v: any) => minus(Number(v).toFixed(1)) },
            grid: { display: false, drawTicks: false },
            border: { display: false },
            afterFit: (s: any) => { s.height = 34; },
          },
          y: { display: false, afterFit: (s: any) => { s.width = 6; } },
        },
      } as any,
      plugins: [frame({ xMinor: 0.1 })],
    } as any);

    const left = new Chart(leftRef.current as any, scatterConfig(
      leftGroups,
      { min: 2500, max: 7500, reverse: true, afterBuildTicks: (s: any) => { s.ticks = teffTicks.map((value) => ({ value })); }, ticks: { ...tickStyle, padding: 2, callback: (v: any) => String(v) }, title: { display: true, text: "Teff", color: "#111", font: { family: FONT, size: 37 }, padding: { top: 8, bottom: 3 } } },
      { min: -1, max: 4.5, ticks: { ...tickStyle, stepSize: 1, padding: 6, labelOffset: 2, callback: (v: any) => minus(String(v)) }, title: { display: true, text: "log g", color: "#111", font: { family: FONT, size: 38 }, padding: { top: 5, bottom: 0 } } },
      { left: 103, top: 27, right: 13, bottom: 93 },
      [frame({ mirror: true })],
    ) as any);

    const right = new Chart(rightRef.current as any, scatterConfig(
      rightGroups,
      { min: 0, max: 4, ticks: { ...tickStyle, stepSize: 1, padding: 2, callback: (v: any) => String(v) }, title: { display: true, text: "BP-RP", color: "#111", font: { family: FONT, size: 41 }, padding: { top: 8, bottom: 3 } } },
      { min: -8, max: 1.9, ticks: { ...tickStyle, stepSize: 2, padding: 6, labelOffset: 2, callback: (v: any) => minus(String(v)) } },
      { left: 96, top: 27, right: 14, bottom: 93 },
      [frame({ mirror: true, xMinor: 0.2 }), mgTitle],
    ) as any);

    return () => {
      cb.destroy();
      left.destroy();
      right.destroy();
    };
  }, []);

  const abs = (left: number, top: number): React.CSSProperties => ({ position: "absolute", left, top, display: "block" });
  return (
    <div style={{ position: "absolute", left: 0, top: 0, width: 954, height: 610, background: "#fff", overflow: "hidden" }}>
      <canvas ref={cbRef} width={650} height={110} style={abs(180, 0)} />
      <canvas ref={leftRef} width={480} height={500} style={abs(0, 110)} />
      <canvas ref={rightRef} width={474} height={500} style={abs(480, 110)} />
    </div>
  );
}
